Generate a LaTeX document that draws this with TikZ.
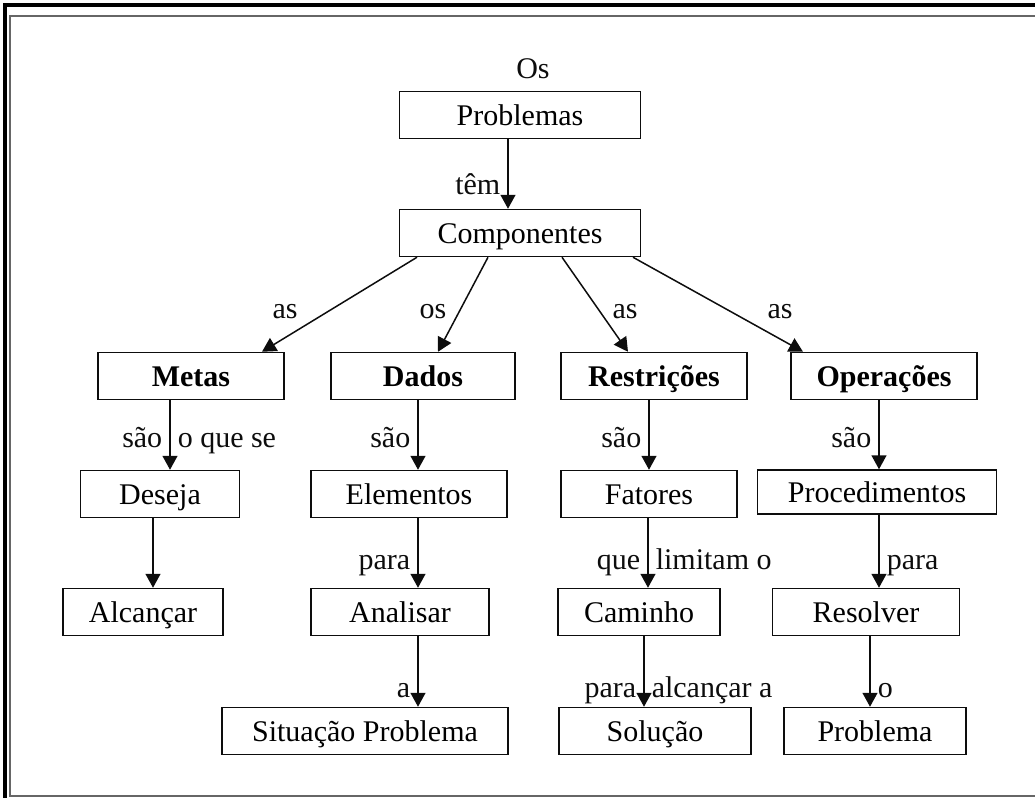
\documentclass[tikz,border=0pt]{standalone}
\usepackage{fontspec}
\setmainfont{Liberation Serif}
\usepackage{tikz}
\usetikzlibrary{arrows.meta, calc}
\usepackage{xcolor}
\definecolor{InkBlack}{gray}{0.05}
\definecolor{FrameGray}{gray}{0.40}
\tikzset{%
  concept/.style={%
    rectangle,%
    draw=InkBlack,%
    line width=0.75pt,%
    minimum height=23.5pt,%
    inner sep=2pt,%
    text height=12pt,%
    text depth=2pt,%
    font={\fontsize{15}{17}\selectfont},%
    align=center%
  },
  key_concept/.style={%
    concept,%
    font={\fontsize{15}{17}\selectfont\bfseries}%
  },
  link/.style={%
    color=InkBlack,%
    line width=0.75pt%
  },
  link_label/.style={%
    color=InkBlack,%
    font={\fontsize{15}{17}\selectfont},%
    text height=12pt,%
    text depth=2pt,%
    inner sep=3.5pt%
  },
  arrow/.style={-{Triangle[length=7pt, width=7.5pt]}},
  frame_outer/.style={draw=black, line width=1.6pt},
  frame_inner/.style={draw=FrameGray, line width=0.6pt},
}
\begin{document}
\begin{tikzpicture}[x=0.5pt, y=-0.5pt]
    \useasboundingbox (0,0) rectangle (1035,798);

    % frame
    \draw [frame_outer] (1035,5) -- (5,5) -- (5,798);
    \draw [frame_inner] (1035,16) -- (10,16) -- (10,796) -- (1035,796);

    % top
    \node [link_label] (Os) at (533,68) {Os};
    \node [concept, minimum width=120.5pt] (Problemas) at (520,115) {Problemas};
    \node [concept, minimum width=120.5pt] (Componentes) at (520,233) {Componentes};

    % componentes
    \node [key_concept, minimum width=93pt] (Metas) at (191,376) {Metas};
    \node [key_concept, minimum width=92pt] (Dados) at (423,376) {Dados};
    \node [key_concept, minimum width=93pt] (Restricoes) at (654,376) {Restrições};
    \node [key_concept, minimum width=93pt] (Operacoes) at (884,376) {Operações};

    \node [concept, minimum width=79.5pt] (Deseja) at (160,494) {Deseja};
    \node [concept, minimum width=98pt] (Elementos) at (409,494) {Elementos};
    \node [concept, minimum width=88pt] (Fatores) at (649,494) {Fatores};
    \node [concept, minimum width=119.5pt, minimum height=22pt] (Procedimentos) at (877,492) {Procedimentos};

    \node [concept, minimum width=80pt] (Alcancar) at (143,612) {Alcançar};
    \node [concept, minimum width=89pt] (Analisar) at (400,612) {Analisar};
    \node [concept, minimum width=81pt] (Caminho) at (639,612) {Caminho};
    \node [concept, minimum width=93.5pt] (Resolver) at (866,612) {Resolver};

    \node [concept, minimum width=143pt] (Situacao) at (365,731) {Situação Problema};
    \node [concept, minimum width=96pt] (Solucao) at (655,731) {Solução};
    \node [concept, minimum width=91pt] (Problema) at (875,731) {Problema};

    \node [link_label] (as_metas) at (285,308) {as};
    \node [link_label] (os_dados) at (433,308) {os};
    \node [link_label] (as_restricoes) at (625,308) {as};
    \node [link_label] (as_operacoes) at (780,308) {as};

    \draw [arrow, link]
      ($(Problemas.south)+(-12,0)$) coordinate (p1)
      --
      (p1 |- Componentes.north)
      node [link_label, pos=0.65, left] (tem) {têm};

    \draw [arrow, link]
      ($(Componentes.south)+(-103,0)$) -- ($(Metas.north)+(71,0)$);
    \draw [arrow, link]
      ($(Componentes.south)+(-32,0)$) -- ($(Dados.north)+(15,0)$);
    \draw [arrow, link]
      ($(Componentes.south)+(42,0)$) -- ($(Restricoes.north)+(-26,0)$);
    \draw [arrow, link]
      ($(Componentes.south)+(113,0)$) -- ($(Operacoes.north)+(-81,0)$);

    \draw [arrow, link]
      ($(Metas.south)+(-21,0)$) coordinate (m1)
      --
      (m1 |- Deseja.north)
      node [link_label, pos=0.54, left] (sao_metas) {são}
      node [link_label, pos=0.54, right] (oquese) {o que se};
    \draw [arrow, link]
      ($(Dados.south)+(-5,0)$) coordinate (d1)
      --
      (d1 |- Elementos.north)
      node [link_label, pos=0.54, left] (sao_dados) {são};
    \draw [arrow, link]
      ($(Restricoes.south)+(-5,0)$) coordinate (r1)
      --
      (r1 |- Fatores.north)
      node [link_label, pos=0.54, left] (sao_restricoes) {são};
    \draw [arrow, link]
      ($(Operacoes.south)+(-5,0)$) coordinate (o1)
      --
      (o1 |- Procedimentos.north)
      node [link_label, pos=0.54, left] (sao_operacoes) {são};

    \draw [arrow, link]
      ($(Deseja.south)+(-7,0)$) coordinate (m2)
      --
      (m2 |- Alcancar.north);
    \draw [arrow, link]
      ($(Elementos.south)+(9,0)$) coordinate (d2)
      --
      (d2 |- Analisar.north)
      node [link_label, pos=0.59, left] (para_dados) {para};
    \draw [arrow, link]
      ($(Fatores.south)+(-1,0)$) coordinate (r2)
      --
      (r2 |- Caminho.north)
      node [link_label, pos=0.59, left] (que) {que}
      node [link_label, pos=0.59, right] (limitam) {limitam o};
    \draw [arrow, link]
      ($(Procedimentos.south)+(2,0)$) coordinate (o2)
      --
      (o2 |- Resolver.north)
      node [link_label, pos=0.61, right] (para_operacoes) {para};

    \draw [arrow, link]
      ($(Analisar.south)+(18,0)$) coordinate (d3)
      --
      (d3 |- Situacao.north)
      node [link_label, pos=0.73, left] (a_dados) {a};
    \draw [arrow, link]
      ($(Caminho.south)+(5,0)$) coordinate (r3)
      --
      (r3 |- Solucao.north)
      node [link_label, pos=0.73, left] (para_restricoes) {para}
      node [link_label, pos=0.73, right] (alcancar_a) {alcançar a};
    \draw [arrow, link]
      ($(Resolver.south)+(4,0)$) coordinate (o3)
      --
      (o3 |- Problema.north)
      node [link_label, pos=0.73, right] (o_operacoes) {o};
  \end{tikzpicture}
\end{document}
